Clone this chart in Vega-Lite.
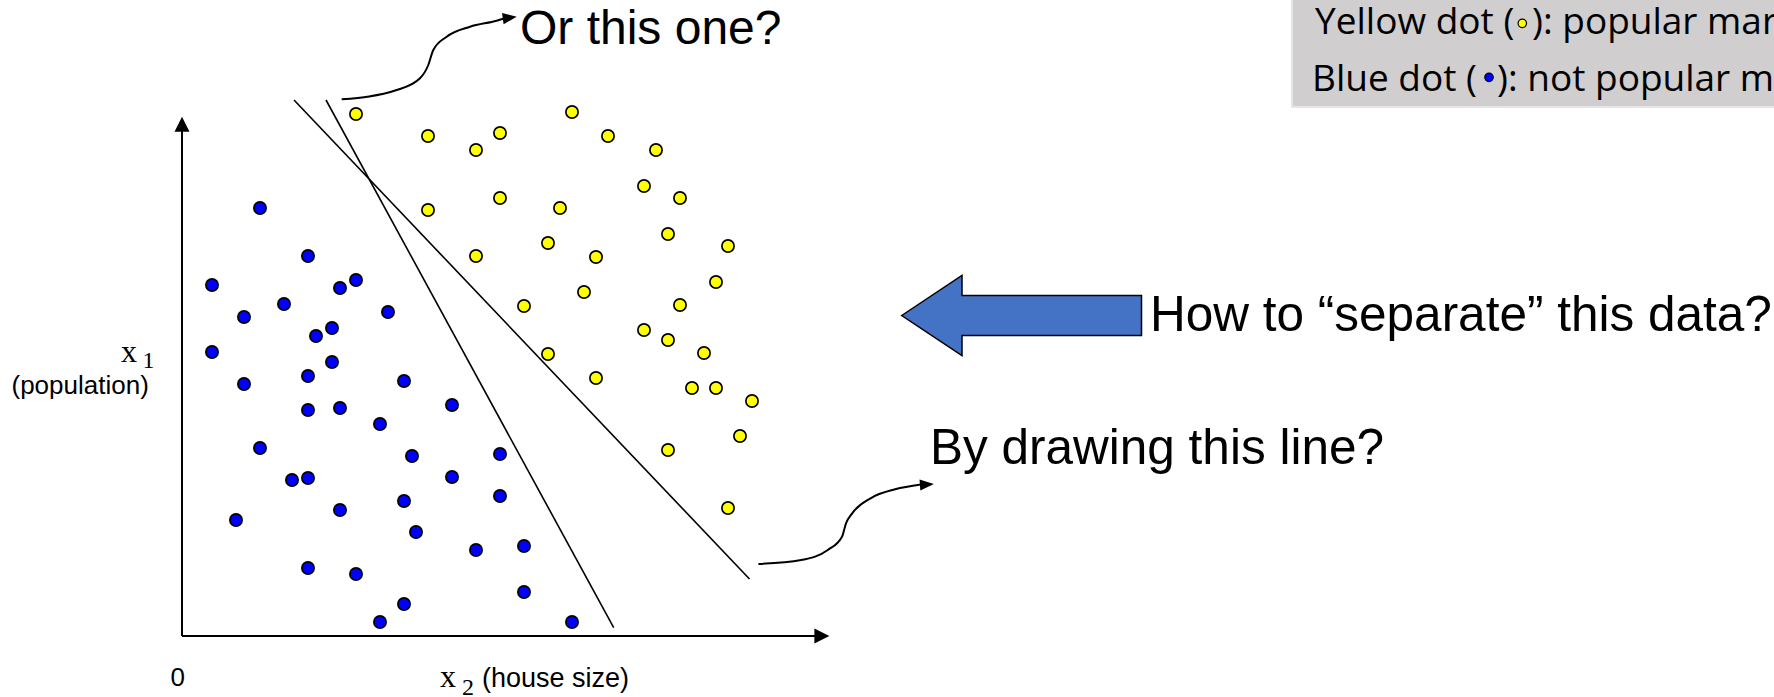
{
  "$schema": "https://vega.github.io/schema/vega-lite/v6.json",
  "width": 1774,
  "height": 697,
  "padding": 0,
  "autosize": {"type": "none"},
  "background": "white",
  "config": {"view": {"stroke": null}},
  "datasets": {
    "legendBox": [{"u": 1110, "v": 529, "u2": 1620, "v2": 650}],
    "axes": [
      {"u": 0, "v": 0, "u2": 0, "v2": 506},
      {"u": 0, "v": 0, "u2": 636, "v2": 0}
    ],
    "axisHeads": [
      {"u": 0, "v": 519.3, "angle": -90},
      {"u": 647.4, "v": 0, "angle": 0}
    ],
    "seps": [
      {"u": 112, "v": 536, "u2": 567.5, "v2": 57},
      {"u": 144, "v": 536, "u2": 431.7, "v2": 8.3}
    ],
    "curves": [
      {"id": "a", "u": 159.7, "v": 536.7},
      {"id": "a", "u": 214.7, "v": 546},
      {"id": "a", "u": 238, "v": 557.7},
      {"id": "a", "u": 246.3, "v": 571},
      {"id": "a", "u": 251.3, "v": 586},
      {"id": "a", "u": 264.7, "v": 599.3},
      {"id": "a", "u": 288, "v": 609.3},
      {"id": "a", "u": 314.7, "v": 615.3},
      {"id": "a", "u": 322, "v": 617.5},
      {"id": "b", "u": 576.4, "v": 72},
      {"id": "b", "u": 619.2, "v": 76},
      {"id": "b", "u": 645.8, "v": 86},
      {"id": "b", "u": 660, "v": 99.3},
      {"id": "b", "u": 664, "v": 112.7},
      {"id": "b", "u": 670.2, "v": 122.7},
      {"id": "b", "u": 688.6, "v": 137.7},
      {"id": "b", "u": 713.1, "v": 146.7},
      {"id": "b", "u": 739, "v": 151.5}
    ],
    "curveHeads": [
      {"u": 334.7, "v": 619.3, "angle": -8},
      {"u": 751.9, "v": 152, "angle": -4}
    ],
    "dots": [
      {"class": "not popular", "u": 78, "v": 428},
      {"class": "not popular", "u": 126, "v": 380},
      {"class": "not popular", "u": 30, "v": 351},
      {"class": "not popular", "u": 158, "v": 348},
      {"class": "not popular", "u": 174, "v": 356},
      {"class": "not popular", "u": 102, "v": 332},
      {"class": "not popular", "u": 62, "v": 319},
      {"class": "not popular", "u": 206, "v": 324},
      {"class": "not popular", "u": 150, "v": 308},
      {"class": "not popular", "u": 134, "v": 300},
      {"class": "not popular", "u": 30, "v": 284},
      {"class": "not popular", "u": 150, "v": 274},
      {"class": "not popular", "u": 126, "v": 260},
      {"class": "not popular", "u": 62, "v": 252},
      {"class": "not popular", "u": 222, "v": 255},
      {"class": "not popular", "u": 126, "v": 226},
      {"class": "not popular", "u": 158, "v": 228},
      {"class": "not popular", "u": 270, "v": 231},
      {"class": "not popular", "u": 198, "v": 212},
      {"class": "not popular", "u": 78, "v": 188},
      {"class": "not popular", "u": 230, "v": 180},
      {"class": "not popular", "u": 318, "v": 182},
      {"class": "not popular", "u": 110, "v": 156},
      {"class": "not popular", "u": 126, "v": 158},
      {"class": "not popular", "u": 270, "v": 159},
      {"class": "not popular", "u": 222, "v": 135},
      {"class": "not popular", "u": 318, "v": 140},
      {"class": "not popular", "u": 158, "v": 126},
      {"class": "not popular", "u": 54, "v": 116},
      {"class": "not popular", "u": 234, "v": 104},
      {"class": "not popular", "u": 294, "v": 86},
      {"class": "not popular", "u": 342, "v": 90},
      {"class": "not popular", "u": 126, "v": 68},
      {"class": "not popular", "u": 174, "v": 62},
      {"class": "not popular", "u": 342, "v": 44},
      {"class": "not popular", "u": 222, "v": 32},
      {"class": "not popular", "u": 198, "v": 14},
      {"class": "not popular", "u": 390, "v": 14},
      {"class": "popular", "u": 174, "v": 522},
      {"class": "popular", "u": 246, "v": 500},
      {"class": "popular", "u": 294, "v": 486},
      {"class": "popular", "u": 318, "v": 503},
      {"class": "popular", "u": 390, "v": 524},
      {"class": "popular", "u": 426, "v": 500},
      {"class": "popular", "u": 474, "v": 486},
      {"class": "popular", "u": 462, "v": 450},
      {"class": "popular", "u": 498, "v": 438},
      {"class": "popular", "u": 246, "v": 426},
      {"class": "popular", "u": 318, "v": 438},
      {"class": "popular", "u": 378, "v": 428},
      {"class": "popular", "u": 486, "v": 402},
      {"class": "popular", "u": 546, "v": 390},
      {"class": "popular", "u": 366, "v": 393},
      {"class": "popular", "u": 414, "v": 379},
      {"class": "popular", "u": 294, "v": 380},
      {"class": "popular", "u": 534, "v": 354},
      {"class": "popular", "u": 402, "v": 344},
      {"class": "popular", "u": 342, "v": 330},
      {"class": "popular", "u": 498, "v": 331},
      {"class": "popular", "u": 462, "v": 306},
      {"class": "popular", "u": 486, "v": 296},
      {"class": "popular", "u": 522, "v": 283},
      {"class": "popular", "u": 366, "v": 282},
      {"class": "popular", "u": 414, "v": 258},
      {"class": "popular", "u": 510, "v": 248},
      {"class": "popular", "u": 534, "v": 248},
      {"class": "popular", "u": 570, "v": 235},
      {"class": "popular", "u": 558, "v": 200},
      {"class": "popular", "u": 486, "v": 186},
      {"class": "popular", "u": 546, "v": 128}
    ],
    "legendDots": [
      {"class": "popular", "u": 1340.3, "v": 612.7},
      {"class": "not popular", "u": 1307, "v": 558.7}
    ],
    "bigArrow": [
      {"u": 719.7, "v": 320.5}
    ],
    "titleText": [
      {"t": "Or this one?", "u": 338, "v": 592.5}
    ],
    "bigText": [
      {"t": "How to \u201cseparate\u201d this data?", "u": 968, "v": 305},
      {"t": "By drawing this line?", "u": 748, "v": 172}
    ],
    "legendText": [
      {"t": "Yellow dot (", "u": 1133, "v": 602},
      {"t": "): popular market", "u": 1350, "v": 602},
      {"t": "Blue dot (", "u": 1130, "v": 545},
      {"t": "): not popular market", "u": 1315, "v": 545}
    ],
    "axisText": [
      {"t": "0", "u": -11.6, "v": -50},
      {"t": "(population)", "u": -170.5, "v": 242}
    ],
    "axisText2": [
      {"t": "(house size)", "u": 300, "v": -50.7}
    ],
    "serifX": [
      {"t": "x", "u": 258, "v": -50.7},
      {"t": "x", "u": -61, "v": 274}
    ],
    "serifSub": [
      {"t": "2", "u": 280, "v": -59},
      {"t": "1", "u": -39.5, "v": 268}
    ]
  },
  "encoding": {
    "x": {"field": "u", "type": "quantitative", "scale": {"domain": [-182, 1592], "nice": false, "zero": false}, "axis": null},
    "y": {"field": "v", "type": "quantitative", "scale": {"domain": [-61, 636], "nice": false, "zero": false}, "axis": null}
  },
  "layer": [
    {
      "data": {"name": "legendBox"},
      "mark": {"type": "rect", "fill": "#D0CECE", "stroke": "#E6E6E6", "strokeWidth": 2, "clip": true},
      "encoding": {"x2": {"field": "u2"}, "y2": {"field": "v2"}}
    },
    {
      "data": {"name": "axes"},
      "mark": {"type": "rule", "color": "black", "strokeWidth": 2},
      "encoding": {"x2": {"field": "u2"}, "y2": {"field": "v2"}}
    },
    {
      "data": {"name": "axisHeads"},
      "mark": {"type": "point", "shape": "M0,0L-2,-1L-2,1Z", "filled": true, "color": "black", "opacity": 1, "size": 225, "strokeWidth": 0},
      "encoding": {"angle": {"field": "angle", "type": "quantitative", "scale": null}}
    },
    {
      "data": {"name": "seps"},
      "mark": {"type": "rule", "color": "black", "strokeWidth": 1.6},
      "encoding": {"x2": {"field": "u2"}, "y2": {"field": "v2"}}
    },
    {
      "data": {"name": "curves"},
      "mark": {"type": "line", "color": "black", "strokeWidth": 2, "interpolate": "monotone"},
      "encoding": {"detail": {"field": "id", "type": "nominal"}}
    },
    {
      "data": {"name": "curveHeads"},
      "mark": {"type": "point", "shape": "M0,0L-2,-0.8L-2,0.8Z", "filled": true, "color": "black", "opacity": 1, "size": 196, "strokeWidth": 0},
      "encoding": {"angle": {"field": "angle", "type": "quantitative", "scale": null}}
    },
    {
      "data": {"name": "dots"},
      "mark": {"type": "circle", "stroke": "black", "strokeWidth": 1.7, "opacity": 1, "size": 150},
      "encoding": {
        "fill": {"field": "class", "type": "nominal", "scale": {"domain": ["popular", "not popular"], "range": ["#FFFF00", "#0000FF"]}, "legend": null}
      }
    },
    {
      "data": {"name": "legendDots"},
      "mark": {"type": "circle", "stroke": "black", "strokeWidth": 1.2, "opacity": 1, "size": 72},
      "encoding": {
        "fill": {"field": "class", "type": "nominal", "scale": {"domain": ["popular", "not popular"], "range": ["#FFFF00", "#0000FF"]}, "legend": null}
      }
    },
    {
      "data": {"name": "bigArrow"},
      "mark": {"type": "point", "shape": "M0,0L60.3,-40L60.3,-20L239.8,-20L239.8,20L60.3,20L60.3,40Z", "size": 4, "filled": true, "fill": "#4472C4", "stroke": "black", "strokeWidth": 1.5, "opacity": 1, "fillOpacity": 1, "strokeOpacity": 1}
    },
    {
      "data": {"name": "titleText"},
      "mark": {"type": "text", "font": "Liberation Sans", "fontSize": 48, "align": "left", "baseline": "alphabetic", "color": "black"},
      "encoding": {"text": {"field": "t"}}
    },
    {
      "data": {"name": "bigText"},
      "mark": {"type": "text", "font": "Liberation Sans", "fontSize": 49.5, "align": "left", "baseline": "alphabetic", "color": "black"},
      "encoding": {"text": {"field": "t"}}
    },
    {
      "data": {"name": "legendText"},
      "mark": {"type": "text", "font": "Open Sans", "fontSize": 37, "align": "left", "baseline": "alphabetic", "color": "black", "clip": true},
      "encoding": {"text": {"field": "t"}}
    },
    {
      "data": {"name": "axisText"},
      "mark": {"type": "text", "font": "Liberation Sans", "fontSize": 26, "align": "left", "baseline": "alphabetic", "color": "black"},
      "encoding": {"text": {"field": "t"}}
    },
    {
      "data": {"name": "axisText2"},
      "mark": {"type": "text", "font": "Liberation Sans", "fontSize": 27, "align": "left", "baseline": "alphabetic", "color": "black"},
      "encoding": {"text": {"field": "t"}}
    },
    {
      "data": {"name": "serifX"},
      "mark": {"type": "text", "font": "Liberation Serif", "fontSize": 32, "align": "left", "baseline": "alphabetic", "color": "black"},
      "encoding": {"text": {"field": "t"}}
    },
    {
      "data": {"name": "serifSub"},
      "mark": {"type": "text", "font": "Liberation Serif", "fontSize": 24, "align": "left", "baseline": "alphabetic", "color": "black"},
      "encoding": {"text": {"field": "t"}}
    }
  ]
}
